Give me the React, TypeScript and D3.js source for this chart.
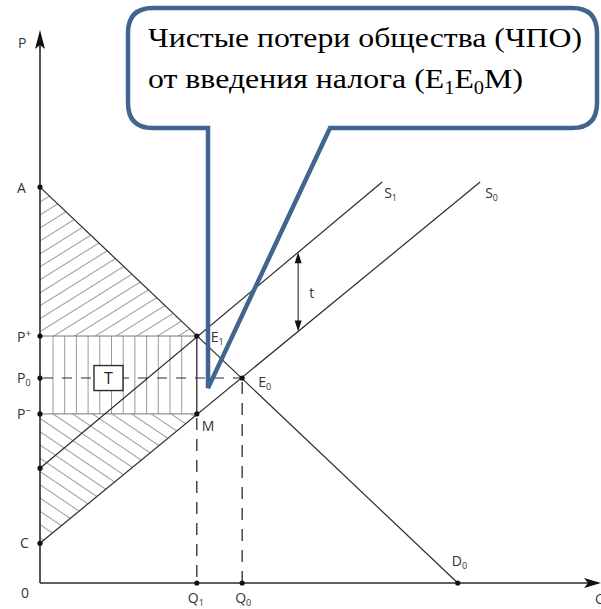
import * as d3 from "d3";

// chart units: quantity on x, price on y (both 0..100)
const priceA = 70.7;
const pricePlus = 44.1;
const priceZero = 36.6;
const priceMinus = 30.2;
const s1Intercept = 20.5;
const priceC = 7.1;

const qty1 = 28.0;
const qty0 = 36.1;
const qtyD0 = 74.6;

const demandD0: [number, number][] = [[0, priceA], [qtyD0, 0]];
const supplyS0: [number, number][] = [[0, priceC], [78.6, 71.6]];
const supplyS1: [number, number][] = [[0, s1Intercept], [61.1, 71.6]];

const pointE1: [number, number] = [qty1, pricePlus];
const pointE0: [number, number] = [qty0, priceZero];
const pointM: [number, number] = [qty1, priceMinus];

const taxArrowQ = 46.1;
const calloutTip: [number, number] = [30, 34.8];

const calloutLine1 = "Чистые потери общества (ЧПО)";
const calloutLine2 = "от введения налога (";

const W = 601;
const H = 609;
const ink = "#2b2b2b";
const hatch = "#9a9a9a";
const bubble = "#41658f";
const labelFont = "'Open Sans', 'DejaVu Sans', sans-serif";
const serifFont = "'Liberation Serif', 'Times New Roman', serif";

// value of a straight line given by two points at quantity q
function lineAt(seg: [number, number][], q: number) {
  const [[q0, p0], [q1, p1]] = seg;
  return p0 + ((p1 - p0) * (q - q0)) / (q1 - q0);
}

function Label({ x, y, main, sub, sup, anchor = "start" }: any) {
  return (
    <text x={x} y={y} fontFamily={labelFont} fontSize={14} fill="#333" textAnchor={anchor}>
      {main}
      {sub ? (
        <tspan fontSize={9} dy={3}>
          {sub}
        </tspan>
      ) : null}
      {sup ? (
        <tspan fontSize={10} dy={-5}>
          {sup}
        </tspan>
      ) : null}
    </text>
  );
}

export default function App() {
  const x = d3.scaleLinear().domain([0, 100]).range([40, 600]);
  const y = d3.scaleLinear().domain([0, 100]).range([583, 23]);
  const line = d3
    .line<[number, number]>()
    .x((d) => x(d[0]))
    .y((d) => y(d[1]));

  const x0 = x(0);
  const yBase = y(0);

  const consumerTri: [number, number][] = [[0, priceA], [0, pricePlus], pointE1];
  const taxRect: [number, number][] = [[0, pricePlus], [qty1, pricePlus], [qty1, priceMinus], [0, priceMinus]];
  const producerTri: [number, number][] = [[0, priceMinus], pointM, [0, priceC]];

  const vLines = d3.range(x0 + 13, x(qty1) - 8, 11.7);

  const tTop = y(lineAt(supplyS1, taxArrowQ));
  const tBot = y(lineAt(supplyS0, taxArrowQ));
  const tx = x(taxArrowQ);

  // callout bubble
  const bx0 = 128, bx1 = 597, by0 = 8, by1 = 128, r = 25;
  const tailL = 208, tailR = 330;
  const tipX = x(calloutTip[0]);
  const tipY = y(calloutTip[1]);
  const bubblePath =
    `M${tailR},${by1} L${bx1 - r},${by1} Q${bx1},${by1} ${bx1},${by1 - r} ` +
    `L${bx1},${by0 + r} Q${bx1},${by0} ${bx1 - r},${by0} L${bx0 + r},${by0} Q${bx0},${by0} ${bx0},${by0 + r} ` +
    `L${bx0},${by1 - r} Q${bx0},${by1} ${bx0 + r},${by1} L${tailL},${by1} L${tipX},${tipY} Z`;

  const dots: [number, number][] = [
    [0, priceA], [0, pricePlus], [0, priceZero], [0, priceMinus], [0, s1Intercept], [0, priceC],
    pointE1, pointE0, pointM, [qty1, 0], [qty0, 0], [qtyD0, 0],
  ];

  return (
    <svg width={W} height={H} style={{ position: "absolute", left: 0, top: 0, background: "#fff" }}>
      <defs>
        <pattern id="hUp" width="11" height="11" patternUnits="userSpaceOnUse" patternTransform="rotate(-32)">
          <line x1="0" y1="5.5" x2="11" y2="5.5" stroke={hatch} strokeWidth={1} />
        </pattern>
        <pattern id="hDown" width="11" height="11" patternUnits="userSpaceOnUse" patternTransform="rotate(34)">
          <line x1="0" y1="5.5" x2="11" y2="5.5" stroke={hatch} strokeWidth={1} />
        </pattern>
        <clipPath id="rectClip">
          <path d={line(taxRect) + "Z"} />
        </clipPath>
      </defs>

      {/* hatched areas */}
      <path d={line(consumerTri) + "Z"} fill="url(#hUp)" />
      <path d={line(producerTri) + "Z"} fill="url(#hDown)" />
      <g clipPath="url(#rectClip)">
        {vLines.map((vx, i) => (
          <line key={i} x1={vx} x2={vx} y1={y(pricePlus)} y2={y(priceMinus)} stroke={hatch} strokeWidth={1} />
        ))}
      </g>
      <line x1={x0} x2={x(qty1)} y1={y(pricePlus)} y2={y(pricePlus)} stroke="#777" strokeWidth={1} />
      <line x1={x0} x2={x(qty1)} y1={y(priceMinus)} y2={y(priceMinus)} stroke="#777" strokeWidth={1} />

      {/* dashed guides */}
      <line x1={x0} x2={x(qty0)} y1={y(priceZero)} y2={y(priceZero)} stroke={ink} strokeWidth={1.1} strokeDasharray="10 9" strokeDashoffset={-3} />
      <line x1={x(qty1)} x2={x(qty1)} y1={y(priceMinus)} y2={yBase} stroke={ink} strokeWidth={1.3} strokeDasharray="12 9" strokeDashoffset={-4} />
      <line x1={x(qty0)} x2={x(qty0)} y1={y(priceZero)} y2={yBase} stroke={ink} strokeWidth={1.3} strokeDasharray="12 9" strokeDashoffset={-4} />
      <line x1={x(qty1)} x2={x(qty1)} y1={y(pricePlus)} y2={y(priceMinus)} stroke={ink} strokeWidth={1.3} />

      {/* T box */}
      <rect x={94} y={y(priceZero) - 12.5} width={29} height={25} fill="#fff" stroke={ink} strokeWidth={1.4} />
      <text x={108.5} y={y(priceZero) + 5.5} textAnchor="middle" fontFamily={labelFont} fontSize={16} fill="#222">
        T
      </text>

      {/* curves */}
      <path d={line(demandD0)!} fill="none" stroke={ink} strokeWidth={1.2} />
      <path d={line(supplyS0)!} fill="none" stroke={ink} strokeWidth={1.2} />
      <path d={line(supplyS1)!} fill="none" stroke={ink} strokeWidth={1.2} />

      {/* tax arrow t */}
      <line x1={tx} x2={tx} y1={tTop + 8} y2={tBot - 8} stroke={ink} strokeWidth={1.1} />
      <path d={`M${tx},${tTop} L${tx - 3.5},${tTop + 11} L${tx + 3.5},${tTop + 11} Z`} fill="#111" />
      <path d={`M${tx},${tBot} L${tx - 3.5},${tBot - 11} L${tx + 3.5},${tBot - 11} Z`} fill="#111" />

      {/* axes */}
      <line x1={x0} x2={x0} y1={yBase} y2={36} stroke={ink} strokeWidth={1.6} />
      <line x1={x0} x2={596} y1={yBase} y2={yBase} stroke={ink} strokeWidth={1.6} />
      <path d={`M${x0},30 L${x0 - 5},49 L${x0},45 L${x0 + 5},49 Z`} fill="#111" />
      <path d={`M601,${yBase} L584,${yBase - 5} L588,${yBase} L584,${yBase + 5} Z`} fill="#111" />

      {dots.map((d, i) => (
        <circle key={i} cx={x(d[0])} cy={y(d[1])} r={2.6} fill="#111" />
      ))}

      {/* labels */}
      <Label x={18} y={48} main="P" />
      <Label x={17} y={193} main="A" />
      <Label x={17} y={342} main="P" sup="+" />
      <Label x={17} y={383} main="P" sub="0" />
      <Label x={17} y={419} main="P" sup="−" />
      <Label x={20} y={548} main="C" />
      <Label x={21} y={598} main="0" />
      <Label x={x(qty1) - 9} y={603} main="Q" sub="1" />
      <Label x={x(qty0) - 7} y={603} main="Q" sub="0" />
      <Label x={595} y={604} main="Q" />
      <Label x={x(pointE1[0]) + 14} y={y(pointE1[1]) + 6} main="E" sub="1" />
      <Label x={x(pointE0[0]) + 16} y={y(pointE0[1]) + 9} main="E" sub="0" />
      <Label x={x(pointM[0]) + 5} y={y(pointM[1]) + 17} main="M" />
      <Label x={x(qtyD0) - 6} y={yBase - 17} main="D" sub="0" />
      <Label x={x(supplyS1[1][0]) + 2} y={y(supplyS1[1][1]) + 16} main="S" sub="1" />
      <Label x={x(supplyS0[1][0]) + 5} y={y(supplyS0[1][1]) + 16} main="S" sub="0" />
      <Label x={tx + 11} y={(tTop + tBot) / 2 + 6} main="t" />

      {/* callout */}
      <path d={bubblePath} fill="none" stroke={bubble} strokeWidth={4.5} strokeLinejoin="miter" />
      <text x={148} y={47} fontFamily={serifFont} fontSize={28} fill="#000" textLength={434} lengthAdjust="spacingAndGlyphs">
        {calloutLine1}
      </text>
      <text x={148} y={88} fontFamily={serifFont} fontSize={28} fill="#000" textLength={375} lengthAdjust="spacingAndGlyphs">
        {calloutLine2}
        E<tspan fontSize={18} dy={6}>1</tspan>
        <tspan dy={-6}>E</tspan>
        <tspan fontSize={18} dy={6}>0</tspan>
        <tspan dy={-6}>M)</tspan>
      </text>
    </svg>
  );
}
